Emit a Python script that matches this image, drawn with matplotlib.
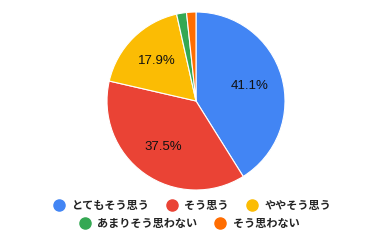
import matplotlib
matplotlib.use("Agg")
import matplotlib.pyplot as plt
from matplotlib.lines import Line2D

plt.rcParams['font.family'] = ['Noto Sans CJK JP', 'DejaVu Sans']

# data
labels = ["とてもそう思う", "そう思う", "ややそう思う", "あまりそう思わない", "そう思わない"]
values = [41.1, 37.5, 17.9, 1.8, 1.7]
colors = ["#4285F4", "#EA4335", "#FBBC04", "#34A853", "#FF6D01"]


def pct_label(p):
    # small slices get no label
    return f"{p:.1f}%" if p >= 5 else ""


fig = plt.figure(figsize=(3.84, 2.42), dpi=100)
ax = fig.add_axes([0, 0, 1, 1])

wedges, texts, autotexts = ax.pie(
    values, colors=colors, startangle=90, counterclock=False,
    center=(196, 141), radius=89, autopct=pct_label, pctdistance=0.63,
    wedgeprops=dict(edgecolor='white', linewidth=0.8),
    textprops=dict(fontsize=9.5, color='#111111', family='Liberation Sans'),
)
# pixel-like coordinates (pie resets the limits, so set them afterwards)
ax.set_xlim(0, 384)
ax.set_ylim(0, 242)
ax.set_aspect('equal')
ax.axis('off')

# legend: two centered rows like the original
handles = [Line2D([], [], marker='o', linestyle='', markersize=8,
                  markerfacecolor=c, markeredgecolor=c) for c in colors]
leg_kw = dict(frameon=False, handletextpad=0.6, columnspacing=1.6,
              handlelength=1.0, prop=dict(size=8, weight='bold'),
              borderpad=0, labelcolor='#222222')
leg1 = fig.legend(handles[:3], labels[:3], ncol=3, loc='center',
                  bbox_to_anchor=(0.5, 1 - 205 / 242), **leg_kw)
leg2 = fig.legend(handles[3:], labels[3:], ncol=2, loc='center',
                  bbox_to_anchor=(0.493, 1 - 223 / 242), **leg_kw)

fig.savefig("out.png", dpi=100)
